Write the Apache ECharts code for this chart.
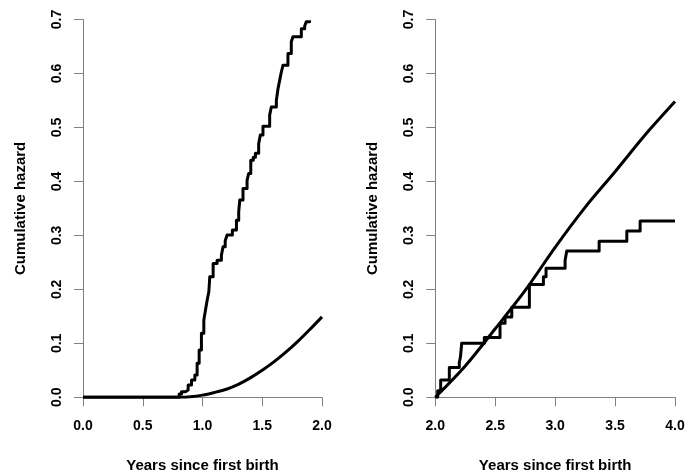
<!DOCTYPE html>
<html>
<head>
<meta charset="utf-8">
<script src="https://cdn.jsdelivr.net/npm/echarts@6/dist/echarts.min.js"></script>
<style>
  html, body { margin: 0; padding: 0; background: #fff; }
  #chart { width: 686px; height: 470px; }
</style>
</head>
<body>
<div id="chart"></div>
<script>
// left panel: 0-2 years
const leftTicks = [0, 0.5, 1, 1.5, 2];
const leftStep = [
  [0, 0], [0.805, 0.006], [0.824, 0.0105], [0.86, 0.0136], [0.88, 0.0228], [0.908, 0.032],
  [0.936, 0.0414], [0.955, 0.063], [0.972, 0.0877], [0.991, 0.1185], [1.011, 0.143],
  [1.025, 0.1617], [1.039, 0.18], [1.053, 0.1956], [1.061, 0.2235], [1.089, 0.248],
  [1.122, 0.254], [1.158, 0.263], [1.172, 0.279], [1.19, 0.29], [1.206, 0.3006],
  [1.25, 0.31], [1.284, 0.328], [1.303, 0.3438], [1.312, 0.3654], [1.339, 0.387],
  [1.373, 0.4024], [1.387, 0.4148], [1.404, 0.439], [1.425, 0.445], [1.443, 0.452],
  [1.47, 0.47], [1.484, 0.4858], [1.506, 0.5024], [1.562, 0.5228], [1.576, 0.538],
  [1.618, 0.55], [1.632, 0.572], [1.646, 0.5876], [1.66, 0.603], [1.674, 0.6154],
  [1.715, 0.637], [1.743, 0.6586], [1.757, 0.668], [1.827, 0.683], [1.855, 0.688],
  [1.869, 0.696], [1.896, 0.6987]
];
const leftFitX = [0, 0.8, 0.9, 1.0, 1.1, 1.2, 1.3, 1.4, 1.5, 1.6, 1.7, 1.8, 1.9, 2.0];
const leftFitY = [0, 0, 0.001, 0.004, 0.009, 0.015, 0.024, 0.036, 0.05, 0.066, 0.084, 0.104, 0.126, 0.149];

// right panel: 2-4 years
const rightTicks = [2, 2.5, 3, 3.5, 4];
const rightStep = [
  [2.0, 0], [2.02, 0.012], [2.045, 0.032], [2.117, 0.055], [2.2, 0.064], [2.21, 0.075],
  [2.22, 0.1], [2.409, 0.111], [2.54, 0.137], [2.582, 0.149], [2.638, 0.167],
  [2.785, 0.209], [2.902, 0.2235], [2.924, 0.239], [3.083, 0.254], [3.097, 0.271],
  [3.367, 0.289], [3.598, 0.308], [3.709, 0.3265], [4.0, 0.3265]
];
const rightFitX = [2.0, 2.25, 2.5, 2.75, 3.0, 3.25, 3.5, 3.75, 4.0];
const rightFitY = [0, 0.058, 0.127, 0.198, 0.278, 0.352, 0.418, 0.486, 0.548];

const font = "Liberation Sans";
const axisGray = "#808080";
const labelStyle = { color: "#000", fontFamily: font, fontWeight: "bold", fontSize: 14 };
const nameStyle = { color: "#000", fontFamily: font, fontWeight: "bold", fontSize: 15 };

function xAxis(idx, ticks) {
  return {
    type: "value", gridIndex: idx, min: ticks[0], max: ticks[ticks.length - 1], interval: 0.5,
    name: "Years since first birth", nameLocation: "middle", nameGap: 61, nameTextStyle: nameStyle,
    axisLine: { onZero: false, lineStyle: { color: axisGray, width: 1 } },
    axisTick: { length: 9, lineStyle: { color: axisGray } },
    axisLabel: { ...labelStyle, margin: 22, formatter: v => v.toFixed(1) },
    splitLine: { show: false }
  };
}
function yAxis(idx) {
  return {
    type: "value", gridIndex: idx, min: 0, max: 0.7, interval: 0.1,
    name: "Cumulative hazard", nameLocation: "middle", nameGap: 55, nameTextStyle: nameStyle,
    axisLine: { show: true, onZero: false, lineStyle: { color: axisGray, width: 1 } },
    axisTick: { show: true, length: 9, lineStyle: { color: axisGray } },
    axisLabel: { ...labelStyle, rotate: 90, margin: 19, formatter: v => v.toFixed(1) },
    splitLine: { show: false }
  };
}
const line = { color: "#000", width: 3, join: "round" };

const chart = echarts.init(document.getElementById("chart"), null, { renderer: "canvas" });
chart.setOption({
  animation: false,
  grid: [
    { left: 83, right: 364, top: 19.5, bottom: 72.7, containLabel: false, outerBoundsMode: "none" },
    { left: 435.3, right: 11, top: 19.5, bottom: 72.7, containLabel: false, outerBoundsMode: "none" }
  ],
  xAxis: [xAxis(0, leftTicks), xAxis(1, rightTicks)],
  yAxis: [yAxis(0), yAxis(1)],
  series: [
    { type: "line", xAxisIndex: 0, yAxisIndex: 0, step: "end", data: leftStep, showSymbol: false, lineStyle: line },
    { type: "line", xAxisIndex: 0, yAxisIndex: 0, smooth: 0.3, data: leftFitX.map((x, i) => [x, leftFitY[i]]), showSymbol: false, lineStyle: line },
    { type: "line", xAxisIndex: 1, yAxisIndex: 1, step: "end", data: rightStep, showSymbol: false, lineStyle: line },
    { type: "line", xAxisIndex: 1, yAxisIndex: 1, smooth: 0.3, data: rightFitX.map((x, i) => [x, rightFitY[i]]), showSymbol: false, lineStyle: line }
  ]
});
</script>
</body>
</html>
